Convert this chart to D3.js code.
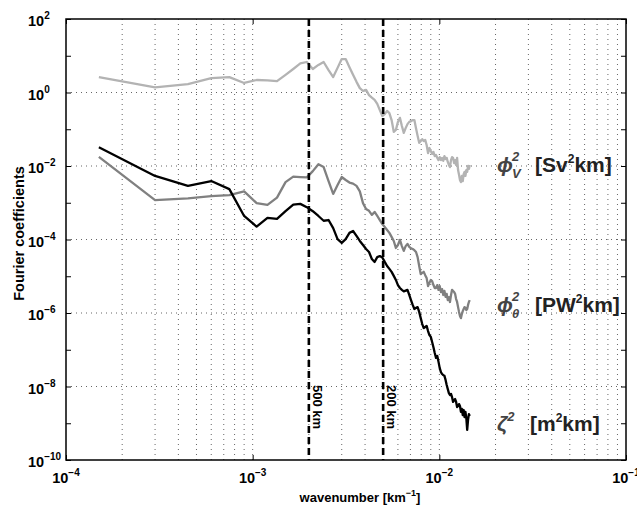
<!DOCTYPE html>
<html>
<head>
<meta charset="utf-8">
<script src="https://cdn.jsdelivr.net/npm/d3@7"></script>
<style>
  body { margin: 0; background: #fff; }
  text { font-family: "Liberation Sans", Arial, sans-serif; font-weight: bold; }
</style>
</head>
<body>
<script>
// mode numbers, wavenumber = mode * dk  [km^-1]
var dk = 1.5e-4;
var modes = [1,2,3,4,5,6,7,8,9,10,11,12,13,14,15,16,17,18,19,20,
  21,22,23,24,25,26,27,28,29,30,31,32,33,34,35,36,37,38,39,40,
  41,42,43,44,45,46,47,48,49,50,51,52,53,54,55,56,57,58,59,60,
  61,62,63,64,65,66,67,68,69,70,71,72,73,74,75,76,77,78,79,80,
  81,82,83,84,85,86,87,88,89,90,91,92,93,94,95,96,97];

// log10 of the Fourier coefficients
var logPhiV = [0.42,0.14,0.23,0.39,0.42,0.26,0.34,0.33,0.31,0.48,
  0.64,0.79,0.83,0.64,0.75,0.83,0.61,0.42,0.67,0.91,
  0.91,0.69,0.48,0.29,0.12,0.04,0.07,-0.07,-0.14,-0.20,
  -0.31,-0.48,-0.64,-0.59,-0.50,-0.56,-0.75,-1.07,-1.02,-0.80,
  -0.69,-0.91,-1.10,-0.97,-0.86,-0.80,-0.78,-0.75,-0.75,-0.97,
  -1.18,-1.37,-1.32,-1.27,-1.32,-1.29,-1.43,-1.65,-1.51,-1.59,
  -1.67,-1.62,-1.73,-1.70,-1.78,-1.84,-1.76,-1.84,-1.78,-1.86,
  -1.73,-1.81,-1.78,-1.89,-1.97,-2.03,-1.84,-1.76,-1.78,-1.92,
  -1.84,-1.97,-1.78,-2.11,-2.24,-2.38,-2.44,-2.27,-2.41,-2.22,
  -2.16,-2.27,-2.11,-2.16,-2.00,-2.08,-1.97];

var logPhiT = [-1.75,-2.93,-2.88,-2.82,-2.79,-2.69,-3.01,-3.06,-2.86,-2.44,
  -2.29,-2.30,-2.31,-2.14,-1.95,-2.03,-2.41,-2.76,-2.52,-2.30,
  -2.38,-2.45,-2.48,-2.54,-2.69,-3.01,-3.17,-3.22,-3.33,-3.25,
  -3.36,-3.47,-3.58,-3.66,-3.74,-3.82,-3.93,-4.04,-4.23,-4.15,
  -4.01,-4.18,-4.31,-4.18,-4.12,-4.20,-4.24,-4.26,-4.29,-4.34,
  -4.48,-4.72,-4.94,-4.91,-4.88,-4.97,-5.05,-5.27,-5.18,-5.10,
  -5.13,-5.24,-5.32,-5.32,-5.24,-5.37,-5.27,-5.43,-5.35,-5.51,
  -5.40,-5.56,-5.48,-5.65,-5.57,-5.70,-5.51,-5.37,-5.40,-5.43,
  -5.48,-5.62,-5.70,-5.84,-5.97,-6.08,-6.14,-6.03,-5.95,-5.89,
  -5.84,-5.86,-5.92,-5.89,-5.78,-5.70,-5.65];

var logZeta = [-1.49,-2.27,-2.54,-2.41,-2.63,-3.36,-3.65,-3.41,-3.44,-3.23,
  -3.05,-3.03,-3.12,-3.23,-3.36,-3.49,-3.47,-3.69,-3.99,-4.09,
  -3.99,-3.82,-3.77,-3.90,-4.04,-4.15,-4.26,-4.34,-4.53,-4.61,
  -4.48,-4.45,-4.49,-4.61,-4.72,-4.80,-4.88,-4.99,-5.10,-5.24,
  -5.32,-5.37,-5.41,-5.39,-5.37,-5.51,-5.65,-5.78,-5.89,-5.86,
  -5.84,-5.97,-6.14,-6.30,-6.41,-6.38,-6.35,-6.49,-6.60,-6.65,
  -6.79,-6.93,-7.09,-7.22,-7.17,-7.33,-7.50,-7.61,-7.66,-7.69,
  -7.71,-7.82,-7.96,-8.07,-8.18,-8.23,-8.20,-8.29,-8.42,-8.37,
  -8.34,-8.42,-8.56,-8.53,-8.48,-8.53,-8.69,-8.61,-8.78,-8.64,
  -8.83,-8.69,-8.86,-9.18,-8.91,-8.75,-8.80];

var seriesColors = ["#b3b3b3", "#808080", "#000000"];
var seriesSymbols = ["\u03D5", "\u03D5", "\u03B6"];
var seriesSubs = ["V", "\u03B8", ""];
var seriesUnits = [["[Sv", "2", "km]"], ["[PW", "2", "km]"], ["[m", "2", "km]"]];

var xTickExp = [-4, -3, -2, -1];
var yTickExp = [2, 0, -2, -4, -6, -8, -10];
var cutoffKm = [500, 200];

var W = 637, H = 506;
var margin = {left: 66, right: 11, top: 19, bottom: 46};
var width = W - margin.left - margin.right,
    height = H - margin.top - margin.bottom;

var svg = d3.select("body").append("svg")
    .attr("width", W).attr("height", H);
var g = svg.append("g")
    .attr("transform", "translate(" + margin.left + "," + margin.top + ")");

var x = d3.scaleLog().domain([1e-4, 1e-1]).range([0, width]);
var y = d3.scaleLog().domain([1e-10, 1e2]).range([height, 0]);

// dotted grid
var xGrid = [];
[-4, -3, -2].forEach(function(e) {
  for (var m = 1; m <= 9; m++) xGrid.push(m * Math.pow(10, e));
});
g.selectAll(".vgrid").data(xGrid.filter(function(v) { return v > 1.01e-4; }))
  .enter().append("line")
  .attr("x1", function(d) { return x(d); }).attr("x2", function(d) { return x(d); })
  .attr("y1", 0).attr("y2", height)
  .attr("stroke", "#666").attr("stroke-width", 1).attr("stroke-dasharray", "1,4");
g.selectAll(".hgrid").data(yTickExp.filter(function(e) { return e < 2 && e > -10; }))
  .enter().append("line")
  .attr("x1", 0).attr("x2", width)
  .attr("y1", function(e) { return y(Math.pow(10, e)); })
  .attr("y2", function(e) { return y(Math.pow(10, e)); })
  .attr("stroke", "#666").attr("stroke-width", 1).attr("stroke-dasharray", "1,4");

// curves
var line = d3.line()
  .x(function(d) { return x(d[0]); })
  .y(function(d) { return y(d[1]); });
[logPhiV, logPhiT, logZeta].forEach(function(arr, i) {
  var pts = modes.map(function(m, j) { return [m * dk, Math.pow(10, arr[j])]; });
  g.append("path").datum(pts)
    .attr("d", line)
    .attr("fill", "none")
    .attr("stroke", seriesColors[i])
    .attr("stroke-width", 2.3)
    .attr("stroke-linejoin", "round");
});

// cutoff scales
cutoffKm.forEach(function(km) {
  var xv = x(1 / km);
  g.append("line")
    .attr("x1", xv).attr("x2", xv).attr("y1", 0).attr("y2", height)
    .attr("stroke", "#000").attr("stroke-width", 2.6).attr("stroke-dasharray", "7,4");
  g.append("text")
    .attr("transform", "translate(" + (xv + 4) + "," + y(1.1e-8) + ") rotate(90)")
    .attr("font-size", 13)
    .text(km + " km");
});

// axes (ticks inward, box around)
var yAll = d3.range(-10, 3).map(function(e) { return Math.pow(10, e); });
var xDec = xTickExp.map(function(e) { return Math.pow(10, e); });
g.append("g").call(d3.axisLeft(y).tickValues(yAll).tickSize(-5).tickFormat(""));
g.append("g").attr("transform", "translate(" + width + ",0)")
  .call(d3.axisRight(y).tickValues(yAll).tickSize(-5).tickFormat(""));
g.append("g").attr("transform", "translate(0," + height + ")")
  .call(d3.axisBottom(x).tickValues(xDec).tickSize(-5).tickFormat(""));
g.append("g").call(d3.axisTop(x).tickValues(xDec).tickSize(-5).tickFormat(""));
g.selectAll(".domain").remove();
g.selectAll(".tick line").attr("stroke", "#000").attr("stroke-width", 1);
g.append("rect").attr("width", width).attr("height", height)
  .attr("fill", "none").attr("stroke", "#000").attr("stroke-width", 1.5);

// tick labels with superscripts
yTickExp.forEach(function(e) {
  var t = g.append("text")
    .attr("x", -38).attr("y", y(Math.pow(10, e)) + 7)
    .attr("text-anchor", "start").attr("font-size", 14.5);
  t.append("tspan").text("10");
  t.append("tspan").attr("dy", -7).attr("font-size", 10)
    .text(e < 0 ? "\u2212" + (-e) : e);
});
xTickExp.forEach(function(e) {
  var t = g.append("text")
    .attr("x", x(Math.pow(10, e))).attr("y", height + 23)
    .attr("text-anchor", "middle").attr("font-size", 14.5);
  t.append("tspan").text("10");
  t.append("tspan").attr("dy", -7).attr("font-size", 10).text("\u2212" + (-e));
});

// axis titles
var xl = g.append("text")
  .attr("x", width / 2 + 14).attr("y", height + 42)
  .attr("text-anchor", "middle").attr("font-size", 13);
xl.append("tspan").text("wavenumber [km");
xl.append("tspan").attr("dy", -6).attr("font-size", 9).text("\u22121");
xl.append("tspan").attr("dy", 6).text("]");

g.append("text")
  .attr("transform", "translate(" + (-42) + "," + (height / 2 - 6) + ") rotate(-90)")
  .attr("text-anchor", "middle").attr("font-size", 14.5)
  .text("Fourier coefficients");

// series labels at the right
var labelExp = [-2, -5.8, -9.05];
labelExp.forEach(function(e, i) {
  var yy = y(Math.pow(10, e)) + 6;
  var sym = g.append("text")
    .attr("x", 431).attr("y", yy)
    .attr("font-family", "'DejaVu Serif', serif").attr("font-style", "italic")
    .attr("font-weight", "normal").attr("font-size", 21).attr("fill", "#444");
  sym.append("tspan").text(seriesSymbols[i]);
  if (seriesSubs[i]) {
    sym.append("tspan").attr("x", 446).attr("dy", -11).attr("font-size", 13).text("2");
    sym.append("tspan").attr("x", 446).attr("dy", 17).attr("font-size", 13).text(seriesSubs[i]);
  } else {
    sym.append("tspan").attr("dy", -10).attr("font-size", 13).text("2");
  }
  var u = g.append("text")
    .attr("x", seriesSubs[i] ? 469 : 464).attr("y", yy)
    .attr("font-size", 21).attr("fill", "#222");
  u.append("tspan").text(seriesUnits[i][0]);
  u.append("tspan").attr("dy", -9).attr("font-size", 12).text(seriesUnits[i][1]);
  u.append("tspan").attr("dy", 9).text(seriesUnits[i][2]);
});
</script>
</body>
</html>
